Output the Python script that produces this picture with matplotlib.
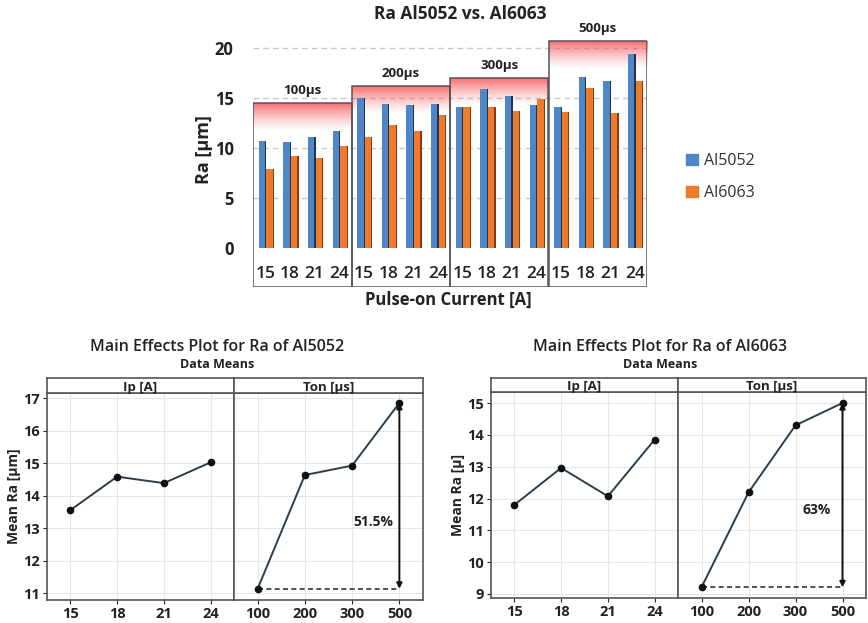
import numpy as np
import matplotlib
matplotlib.use("Agg")
import matplotlib.pyplot as plt
from matplotlib.patches import Rectangle, Patch

plt.rcParams['font.family'] = ['Open Sans', 'DejaVu Sans']

# ---- data ----
currents = ["15", "18", "21", "24"]
pulse_times = ["100µs", "200µs", "300µs", "500µs"]
ra_5052 = [10.7, 10.6, 11.1, 11.7,
           15.0, 14.4, 14.3, 14.4,
           14.1, 15.9, 15.2, 14.3,
           14.1, 17.1, 16.7, 19.4]
ra_6063 = [7.9, 9.2, 9.0, 10.2,
           11.1, 12.3, 11.7, 13.3,
           14.1, 14.1, 13.7, 14.9,
           13.6, 16.0, 13.5, 16.7]
box_tops = [14.5, 16.2, 17.0, 20.7]

ip_levels = ["15", "18", "21", "24"]
ton_levels = ["100", "200", "300", "500"]
mean_5052_ip = [13.55, 14.58, 14.38, 15.02]
mean_5052_ton = [11.13, 14.63, 14.92, 16.85]
mean_6063_ip = [11.80, 12.96, 12.07, 13.85]
mean_6063_ton = [9.21, 12.19, 14.30, 15.00]

BLUE = "#4f86c6"
BLUE_DK = "#1d3557"
ORANGE = "#ee7b2c"
ORANGE_DK = "#8a3a0c"
TXT = "#222222"

fig = plt.figure(figsize=(8.68, 6.23), dpi=100)

# ---- top: bar chart ----
W, H = 868, 623
ax = fig.add_axes([253 / W, 1 - 287 / H, (647 - 253) / W, (287 - 36) / H])
n = len(ra_5052)
x = np.arange(n)
ax.set_xlim(-0.5, n - 0.5)
ax.set_ylim(-3.9, 21.2)

for v in [5, 10, 15, 20]:
    ax.axhline(v, color="#c8c8c8", lw=1, ls=(0, (4, 3)), zorder=0)

bw = 0.26
ax.bar(x - 0.14, ra_5052, width=bw, color=BLUE, zorder=2)
ax.bar(x - 0.14 + bw / 2 + 0.025, ra_5052, width=0.05, color=BLUE_DK, zorder=2)
ax.bar(x + 0.17, ra_6063, width=bw, color=ORANGE, zorder=2)
ax.bar(x + 0.17 + bw / 2 + 0.025, ra_6063, width=0.05, color=ORANGE_DK, zorder=2)

grad = np.zeros((64, 1, 4))
grad[..., 0] = 0.96
grad[..., 1] = 0.30
grad[..., 2] = 0.32
grad[:, 0, 3] = np.linspace(0.85, 0.0, 64) ** 1.3
for g, top in enumerate(box_tops):
    x0, x1 = 4 * g - 0.5, 4 * g + 3.5
    ax.imshow(grad, extent=[x0, x1, top - 2.8, top], aspect="auto",
              zorder=1, interpolation="bilinear")
    ax.add_patch(Rectangle((x0, -3.9), 4, top + 3.9, fill=False,
                           ec="#555555", lw=1.1, zorder=3))
    ax.text(4 * g + 1.5, top + 0.6, pulse_times[g], ha="center", va="bottom",
            fontsize=9.5, fontweight="bold", color=TXT)
for i in range(n):
    ax.text(i, -2.6, currents[i % 4], ha="center", va="center",
            fontsize=12.5, fontweight="semibold", color=TXT)

ax.set_xlim(-0.5, n - 0.5)
ax.set_ylim(-3.9, 21.2)
ax.set_xticks([])
ax.set_yticks([0, 5, 10, 15, 20])
ax.tick_params(axis="y", length=0, pad=14, labelsize=12, labelcolor=TXT)
for lb in ax.get_yticklabels():
    lb.set_fontweight("bold")
for s in ax.spines.values():
    s.set_visible(False)

fig.text(460 / W, 1 - 14 / H, "Ra Al5052 vs. Al6063", ha="center", va="center",
         fontsize=12.5, fontweight="bold", color=TXT)
fig.text(204 / W, 1 - 150 / H, "Ra [µm]", rotation=90, ha="center", va="center",
         fontsize=13, fontweight="bold", color=TXT)
fig.text(448 / W, 1 - 300 / H, "Pulse-on Current [A]", ha="center", va="center",
         fontsize=12, fontweight="bold", color=TXT)
fig.legend(handles=[Patch(color=BLUE, label="Al5052"),
                    Patch(color=ORANGE, label="Al6063")],
           loc="center left", bbox_to_anchor=(672 / W, 1 - 177 / H),
           frameon=False, fontsize=11.5, handlelength=0.7, handleheight=0.7,
           handletextpad=0.4, labelspacing=1.0, labelcolor="#333333")


# ---- bottom: main effects plots ----
def main_effects(left, mid, right, top, strip_bot, bottom, ylim, yticks,
                 ip_vals, ton_vals, ylabel, pct, pct_y, title, title_x):
    h = (bottom - strip_bot) / H
    y0 = 1 - bottom / H
    axl = fig.add_axes([left / W, y0, (mid - left) / W, h])
    axr = fig.add_axes([mid / W, y0, (right - mid) / W, h], sharey=axl)
    for a, vals, labels, name in [(axl, ip_vals, ip_levels, "Ip [A]"),
                                  (axr, ton_vals, ton_levels, "Ton [µs]")]:
        a.plot(range(4), vals, color="#2e3d4c", lw=1.4, marker="o",
               ms=4.5, mfc="#111111", mec="#111111", zorder=3)
        a.set_xlim(-0.5, 3.5)
        a.set_xticks(range(4))
        a.set_xticklabels(labels)
        a.grid(True, color="#e6e6e6", lw=0.8)
        a.tick_params(labelsize=10.5, colors="#222222", length=3, pad=2)
        for lb in a.get_xticklabels() + a.get_yticklabels():
            lb.set_fontweight("bold")
        for s in a.spines.values():
            s.set_color("#555555")
            s.set_linewidth(1.2)
        sx = fig.add_axes([a.get_position().x0, 1 - strip_bot / H,
                           a.get_position().width, (strip_bot - top) / H])
        sx.set_xticks([])
        sx.set_yticks([])
        for s in sx.spines.values():
            s.set_color("#555555")
            s.set_linewidth(1.2)
        sx.text(0.5, 0.4, name, ha="center", va="center", fontsize=9.5,
                fontweight="bold", color="#222222", transform=sx.transAxes)
    axl.set_ylim(*ylim)
    axl.set_yticks(yticks)
    axr.tick_params(axis="y", left=False, labelleft=False)
    axl.set_ylabel(ylabel, fontsize=10, fontweight="bold", color="#222222")
    axl.yaxis.set_label_coords(-0.14, 0.5)
    lo, hi = ton_vals[0], ton_vals[-1]
    axr.plot([0, 3], [lo, lo], color="#333333", lw=1.2, ls=(0, (3, 2)), zorder=2)
    axr.annotate("", xy=(3, lo), xytext=(3, hi),
                 arrowprops=dict(arrowstyle="<|-|>", color="#111111", lw=1.4,
                                 mutation_scale=8, shrinkA=0, shrinkB=0))
    axr.text(2.45, pct_y, pct, ha="center", va="center", fontsize=10,
             fontweight="bold", color="#222222")
    fig.text(title_x / W, 1 - 347 / H, title, ha="center", va="center",
             fontsize=11.5, fontweight="semibold", color="#222222")
    fig.text(title_x / W, 1 - 364 / H, "Data Means", ha="center", va="center",
             fontsize=9, fontweight="bold", color="#222222")


main_effects(47, 234, 423, 378, 393, 600, (10.785, 17.154),
             [11, 12, 13, 14, 15, 16, 17], mean_5052_ip, mean_5052_ton,
             "Mean Ra [µm]", "51.5%", 13.17,
             "Main Effects Plot for Ra of Al5052", 217)
main_effects(491, 678, 866, 378, 392, 598, (8.874, 15.346),
             [9, 10, 11, 12, 13, 14, 15], mean_6063_ip, mean_6063_ton,
             "Mean Ra [µ]", "63%", 11.63,
             "Main Effects Plot for Ra of Al6063", 660)

fig.savefig("out.png", dpi=100)
